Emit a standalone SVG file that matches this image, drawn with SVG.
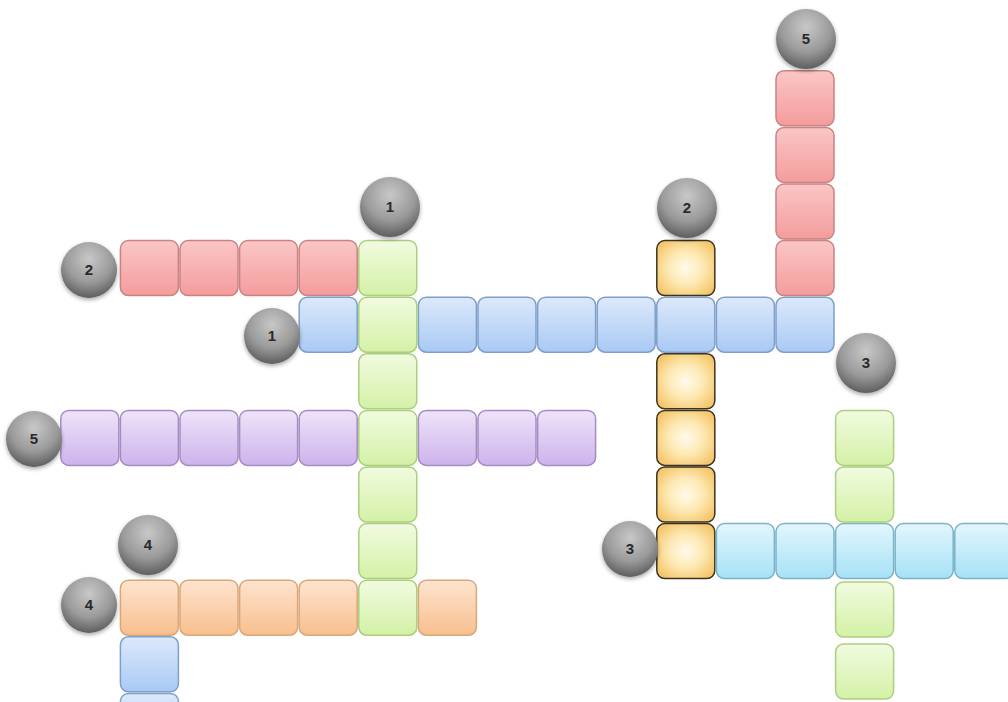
<svg xmlns="http://www.w3.org/2000/svg" width="1008" height="702" viewBox="0 0 1008 702">
<defs>
<linearGradient id="gRed" x1="0" y1="0" x2="0" y2="1"><stop offset="0" stop-color="#fbc6c6"/><stop offset="1" stop-color="#f49c9c"/></linearGradient>
<linearGradient id="gGreen" x1="0" y1="0" x2="0" y2="1"><stop offset="0" stop-color="#f1fbe0"/><stop offset="1" stop-color="#d4f1a6"/></linearGradient>
<linearGradient id="gBlue" x1="0" y1="0" x2="0" y2="1"><stop offset="0" stop-color="#dce9fb"/><stop offset="1" stop-color="#a9c9f4"/></linearGradient>
<linearGradient id="gPurple" x1="0" y1="0" x2="0" y2="1"><stop offset="0" stop-color="#efe3f9"/><stop offset="1" stop-color="#cdb3ec"/></linearGradient>
<linearGradient id="gOrange" x1="0" y1="0" x2="0" y2="1"><stop offset="0" stop-color="#fde4cf"/><stop offset="1" stop-color="#f8bf8e"/></linearGradient>
<linearGradient id="gCyan" x1="0" y1="0" x2="0" y2="1"><stop offset="0" stop-color="#e2f6fd"/><stop offset="1" stop-color="#a6e2f6"/></linearGradient>
<radialGradient id="gYellow" cx="0.5" cy="0.5" r="0.6"><stop offset="0" stop-color="#fffaea"/><stop offset="0.5" stop-color="#fde9b4"/><stop offset="1" stop-color="#f5c66a"/></radialGradient>
<radialGradient id="gBall" cx="0.5" cy="0.3" r="0.7"><stop offset="0" stop-color="#c8c8c8"/><stop offset="0.6" stop-color="#9a9a9a"/><stop offset="1" stop-color="#5e5e5e"/></radialGradient>
<filter id="sh" x="-30%" y="-30%" width="160%" height="170%"><feGaussianBlur in="SourceAlpha" stdDeviation="2"/><feOffset dy="2"/><feComponentTransfer><feFuncA type="linear" slope="0.35"/></feComponentTransfer><feMerge><feMergeNode/><feMergeNode in="SourceGraphic"/></feMerge></filter>
</defs>
<style>
rect{stroke-width:1.5}
.r{fill:url(#gRed);stroke:#c98383}
.g{fill:url(#gGreen);stroke:#a9cf7f}
.b{fill:url(#gBlue);stroke:#7f9fc8}
.p{fill:url(#gPurple);stroke:#a58cc2}
.o{fill:url(#gOrange);stroke:#dba77a}
.c{fill:url(#gCyan);stroke:#7bb3c6}
.y{fill:url(#gYellow);stroke:#3b3323}
.ball{fill:url(#gBall);filter:url(#sh)}
.num{font-family:"Liberation Sans",Arial,sans-serif;font-size:15px;font-weight:bold;fill:#2a2a2a;text-anchor:middle}
</style>
<rect width="1008" height="702" fill="#ffffff" style="stroke:none"/>

<!-- Word 2 across (red) -->
<g id="across-2">
<rect class="r" x="120.4" y="240.6" width="58" height="55" rx="8"/>
<rect class="r" x="180" y="240.6" width="58" height="55" rx="8"/>
<rect class="r" x="239.6" y="240.6" width="58" height="55" rx="8"/>
<rect class="r" x="299.2" y="240.6" width="58" height="55" rx="8"/>
</g>

<!-- Word 1 across (blue) -->
<g id="across-1">
<rect class="b" x="299.2" y="297.2" width="58" height="55" rx="8"/>
<rect class="b" x="418.4" y="297.2" width="58" height="55" rx="8"/>
<rect class="b" x="478" y="297.2" width="58" height="55" rx="8"/>
<rect class="b" x="537.6" y="297.2" width="58" height="55" rx="8"/>
<rect class="b" x="597.2" y="297.2" width="58" height="55" rx="8"/>
<rect class="b" x="656.8" y="297.2" width="58" height="55" rx="8"/>
<rect class="b" x="716.4" y="297.2" width="58" height="55" rx="8"/>
<rect class="b" x="776" y="297.2" width="58" height="55" rx="8"/>
</g>

<!-- Word 1 down (green) -->
<g id="down-1">
<rect class="g" x="358.8" y="240.6" width="58" height="55" rx="8"/>
<rect class="g" x="358.8" y="297.2" width="58" height="55" rx="8"/>
<rect class="g" x="358.8" y="353.8" width="58" height="55" rx="8"/>
<rect class="g" x="358.8" y="410.4" width="58" height="55" rx="8"/>
<rect class="g" x="358.8" y="467" width="58" height="55" rx="8"/>
<rect class="g" x="358.8" y="523.6" width="58" height="55" rx="8"/>
<rect class="g" x="358.8" y="580.2" width="58" height="55" rx="8"/>
</g>

<!-- Word 5 down (red) -->
<g id="down-5">
<rect class="r" x="776" y="70.8" width="58" height="55" rx="8"/>
<rect class="r" x="776" y="127.4" width="58" height="55" rx="8"/>
<rect class="r" x="776" y="184" width="58" height="55" rx="8"/>
<rect class="r" x="776" y="240.6" width="58" height="55" rx="8"/>
</g>

<!-- Word 2 down (yellow) -->
<g id="down-2">
<rect class="y" x="656.8" y="240.6" width="58" height="55" rx="8"/>
<rect class="y" x="656.8" y="353.8" width="58" height="55" rx="8"/>
<rect class="y" x="656.8" y="410.4" width="58" height="55" rx="8"/>
<rect class="y" x="656.8" y="467" width="58" height="55" rx="8"/>
<rect class="y" x="656.8" y="523.6" width="58" height="55" rx="8"/>
</g>

<!-- Word 5 across (purple) -->
<g id="across-5">
<rect class="p" x="60.8" y="410.4" width="58" height="55" rx="8"/>
<rect class="p" x="120.4" y="410.4" width="58" height="55" rx="8"/>
<rect class="p" x="180" y="410.4" width="58" height="55" rx="8"/>
<rect class="p" x="239.6" y="410.4" width="58" height="55" rx="8"/>
<rect class="p" x="299.2" y="410.4" width="58" height="55" rx="8"/>
<rect class="p" x="418.4" y="410.4" width="58" height="55" rx="8"/>
<rect class="p" x="478" y="410.4" width="58" height="55" rx="8"/>
<rect class="p" x="537.6" y="410.4" width="58" height="55" rx="8"/>
</g>

<!-- Word 4 across (orange) -->
<g id="across-4">
<rect class="o" x="120.4" y="580.2" width="58" height="55" rx="8"/>
<rect class="o" x="180" y="580.2" width="58" height="55" rx="8"/>
<rect class="o" x="239.6" y="580.2" width="58" height="55" rx="8"/>
<rect class="o" x="299.2" y="580.2" width="58" height="55" rx="8"/>
<rect class="o" x="418.4" y="580.2" width="58" height="55" rx="8"/>
</g>

<!-- Word 4 down (blue) -->
<g id="down-4">
<rect class="b" x="120.4" y="636.8" width="58" height="55" rx="8"/>
<rect class="b" x="120.4" y="693.4" width="58" height="55" rx="8"/>
</g>

<!-- Word 3 across (cyan) -->
<g id="across-3">
<rect class="c" x="716.4" y="523.6" width="58" height="55" rx="8"/>
<rect class="c" x="776" y="523.6" width="58" height="55" rx="8"/>
<rect class="c" x="835.6" y="523.6" width="58" height="55" rx="8"/>
<rect class="c" x="895.2" y="523.6" width="58" height="55" rx="8"/>
<rect class="c" x="954.8" y="523.6" width="58" height="55" rx="8"/>
</g>

<!-- Word 3 down (green) -->
<g id="down-3">
<rect class="g" x="835.6" y="410.4" width="58" height="55" rx="8"/>
<rect class="g" x="835.6" y="467" width="58" height="55" rx="8"/>
<rect class="g" x="835.6" y="582" width="58" height="55" rx="8"/>
<rect class="g" x="835.6" y="644" width="58" height="55" rx="8"/>
</g>

<!-- Number markers -->
<g id="marker-down-1"><circle class="ball" cx="390" cy="207" r="30"/><text class="num" x="390" y="212">1</text></g>
<g id="marker-across-2"><circle class="ball" cx="89" cy="270" r="28"/><text class="num" x="89" y="275">2</text></g>
<g id="marker-across-1"><circle class="ball" cx="272" cy="336" r="28"/><text class="num" x="272" y="341">1</text></g>
<g id="marker-down-2"><circle class="ball" cx="687" cy="208" r="30"/><text class="num" x="687" y="213">2</text></g>
<g id="marker-down-5"><circle class="ball" cx="806" cy="39" r="30"/><text class="num" x="806" y="44">5</text></g>
<g id="marker-down-3"><circle class="ball" cx="866" cy="363" r="30"/><text class="num" x="866" y="368">3</text></g>
<g id="marker-across-3"><circle class="ball" cx="630" cy="549" r="28"/><text class="num" x="630" y="554">3</text></g>
<g id="marker-across-5"><circle class="ball" cx="34" cy="439" r="28"/><text class="num" x="34" y="444">5</text></g>
<g id="marker-down-4"><circle class="ball" cx="148" cy="545" r="30"/><text class="num" x="148" y="550">4</text></g>
<g id="marker-across-4"><circle class="ball" cx="89" cy="605" r="28"/><text class="num" x="89" y="610">4</text></g>
</svg>
